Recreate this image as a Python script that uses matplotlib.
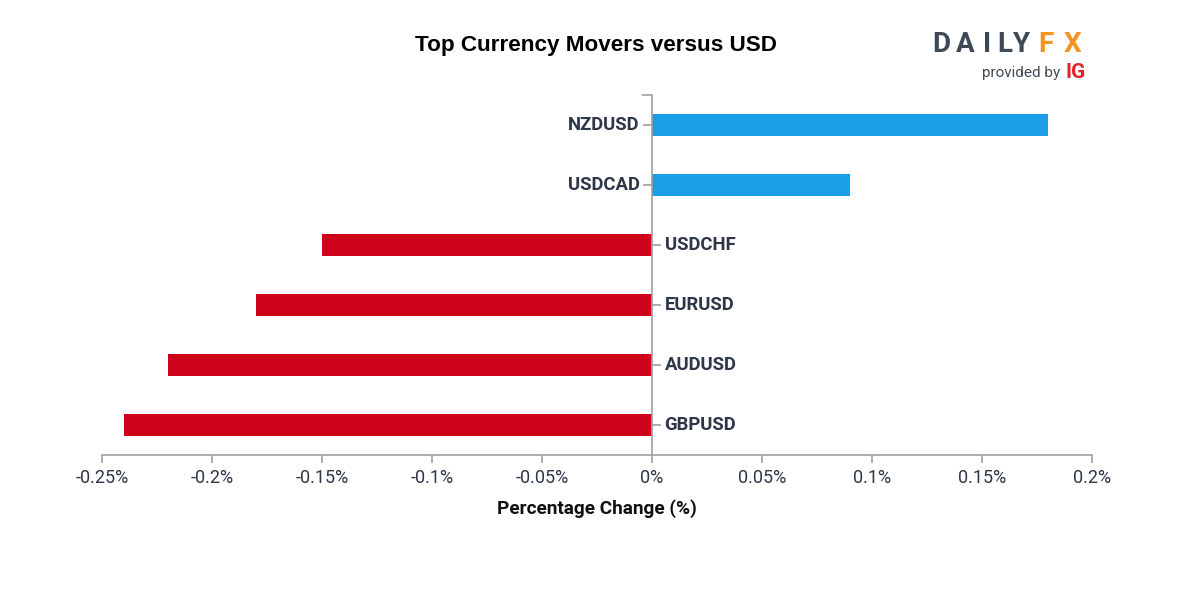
import matplotlib.pyplot as plt
from matplotlib.ticker import FuncFormatter

# data, top to bottom
pairs = ["NZDUSD", "USDCAD", "USDCHF", "EURUSD", "AUDUSD", "GBPUSD"]
changes = [0.18, 0.09, -0.15, -0.18, -0.22, -0.24]
xticks = [-0.25, -0.2, -0.15, -0.1, -0.05, 0, 0.05, 0.1, 0.15, 0.2]

BLUE = "#1a9fe6"
RED = "#d0021b"
TEXT = "#2d3748"
AXIS = "#a0a0a0"

fig = plt.figure(figsize=(12, 6), dpi=100)
ax = fig.add_axes([0.085, 0.2417, 0.825, 0.6])

ypos = list(range(len(pairs)))
colors = [BLUE if v > 0 else RED for v in changes]
ax.barh(ypos, changes, height=0.37, color=colors, zorder=2)

ax.set_xlim(-0.25, 0.2)
ax.set_ylim(len(pairs) - 0.5, -0.5)

for s in ["top", "right", "left"]:
    ax.spines[s].set_visible(False)
ax.spines["bottom"].set_color(AXIS)
ax.spines["bottom"].set_linewidth(1.2)

ax.set_yticks([])
ax.set_xticks(xticks)
ax.xaxis.set_major_formatter(FuncFormatter(lambda v, p: "0%" if abs(v) < 1e-9 else f"{v:g}%"))
ax.tick_params(axis="x", direction="out", length=6, width=1.2, color=AXIS,
               labelsize=13, labelcolor=TEXT, pad=4)
for lab in ax.get_xticklabels():
    lab.set_fontfamily("Roboto")

# zero axis line
ax.axvline(0, color=AXIS, lw=1.2, zorder=3)
ax.annotate("", xy=(0, -0.5), xytext=(-7, 0), textcoords="offset points",
            arrowprops=dict(arrowstyle="-", color=AXIS, lw=1.2, shrinkA=0, shrinkB=0))

for y, name, v in zip(ypos, pairs, changes):
    side = -1 if v > 0 else 1
    ax.annotate("", xy=(0, y), xytext=(side * 6, 0), textcoords="offset points",
                arrowprops=dict(arrowstyle="-", color=AXIS, lw=1.2, shrinkA=0, shrinkB=0))
    ax.annotate(name, xy=(0, y), xytext=(side * 9, 0), textcoords="offset points",
                ha="right" if side < 0 else "left", va="center",
                fontsize=13.3, fontweight="bold", color=TEXT, family="Roboto")

ax.set_xlabel("Percentage Change (%)", fontsize=13.7, fontweight="bold", color="#111111",
              family="Roboto", labelpad=9)

fig.text(0.497, 0.925, "Top Currency Movers versus USD", ha="center", va="center",
         fontsize=16.2, fontweight="bold", family="Liberation Sans", color="black")

# logo, letter by letter for the wide tracking
logo = [("D", 941, "#3f4954"), ("A", 965, "#3f4954"), ("I", 987, "#3f4954"),
        ("L", 1005, "#3f4954"), ("Y", 1022, "#3f4954"),
        ("F", 1046, "#f7931e"), ("X", 1073, "#f7931e")]
for ch, px, col in logo:
    fig.text(px / 1200, 1 - 45 / 600, ch, ha="center", va="center", fontsize=20,
             fontweight="bold", family="Roboto", color=col)
fig.text(0.818, 0.878, "provided by", ha="left", va="center", fontsize=11,
         family="Roboto", color="#3f4954")
fig.text(0.888, 0.879, "IG", ha="left", va="center", fontsize=15, fontweight="bold",
         family="Roboto", color="#e8202a")

fig.savefig("out.png", dpi=100, facecolor="white")
